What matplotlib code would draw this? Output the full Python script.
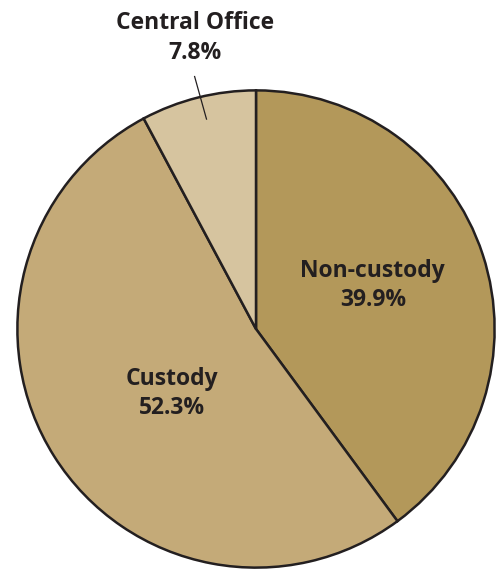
import matplotlib.pyplot as plt

labels = ['Non-custody', 'Custody', 'Central Office']
shares = [39.9, 52.3, 7.8]
colors = ['#b3985a', '#c4aa78', '#d6c49f']

W, H = 497, 572
cx, cy, r = 256, 329, 241   # pie centre / radius in pixels


def px(x, y):
    # pixel position -> data coords of the pie axes
    return (x - cx) / r, (cy - y) / r


fig = plt.figure(figsize=(W / 100, H / 100), dpi=100)
ax = fig.add_axes([(cx - r) / W, (H - cy - r) / H, 2 * r / W, 2 * r / H])
ax.pie(shares, colors=colors, startangle=90, counterclock=False, radius=1,
       wedgeprops=dict(edgecolor='#231f20', linewidth=1.8))
ax.set_xlim(-1.01, 1.01)
ax.set_ylim(-1.01, 1.01)
ax.set_aspect('equal')
ax.axis('off')

font = dict(family=['Open Sans', 'DejaVu Sans'], weight='bold', fontsize=16.5,
            color='#231f20', ha='center', va='center', linespacing=1.3)

ax.text(*px(374, 285), f'{labels[0]}\n{shares[0]}%', **font)
ax.text(*px(171, 394), f'{labels[1]}\n{shares[1]}%', **font)
ax.text(*px(194, 35), f'{labels[2]}\n{shares[2]}%', clip_on=False, **font)
ax.plot(*zip(px(194, 74), px(206, 117)), color='#231f20', lw=0.9, clip_on=False)

fig.savefig('out.png', dpi=100)
